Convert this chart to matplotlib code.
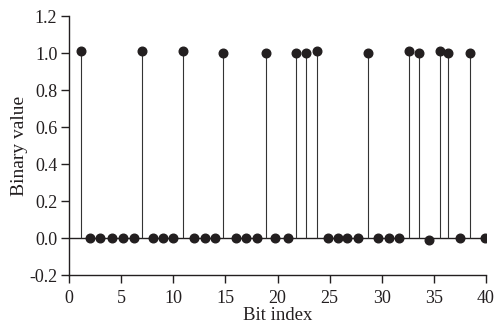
import matplotlib
matplotlib.use("Agg")
import matplotlib.pyplot as plt
import numpy as np

plt.rcParams['font.family'] = ['Liberation Serif', 'DejaVu Serif']
plt.rcParams['axes.unicode_minus'] = False

bit_pos = [1.1, 2.0, 3.0, 4.1, 5.2, 6.2, 7.0, 8.0, 9.0, 10.0,
           10.9, 12.0, 13.0, 14.0, 14.8, 16.0, 17.0, 18.0, 18.9, 19.8,
           21.0, 21.8, 22.7, 23.8, 24.8, 25.8, 26.7, 27.7, 28.7, 29.6,
           30.7, 31.7, 32.6, 33.6, 34.5, 35.6, 36.4, 37.5, 38.5, 39.9]
bit_val = [1.01, 0, 0, 0, 0, 0, 1.01, 0, 0, 0,
           1.01, 0, 0, 0, 1.0, 0, 0, 0, 1.0, 0,
           0, 1.0, 1.0, 1.01, 0, 0, 0, 0, 1.0, 0,
           0, 0, 1.01, 1.0, -0.01, 1.01, 1.0, 0, 1.0, 0]
x_ticks = [0, 5, 10, 15, 20, 25, 30, 35, 40]
y_ticks = [-0.2, 0.0, 0.2, 0.4, 0.6, 0.8, 1.0, 1.2]

fig = plt.figure(figsize=(5.01, 3.29), dpi=100)
ax = fig.add_axes([0.138, 0.164, 0.832, 0.787])

mk, st, bl = ax.stem(bit_pos, bit_val, basefmt=' ')
plt.setp(st, color='#333333', linewidth=0.8)
plt.setp(mk, color='#231f20', markersize=6.2, zorder=3)
ax.axhline(0, color='#231f20', linewidth=1.0, zorder=1)

ax.set_xlim(0, 40)
ax.set_ylim(-0.2, 1.2)
ax.set_xticks(x_ticks)
ax.set_yticks(y_ticks)
ax.set_yticklabels([f"{v:.1f}" for v in y_ticks])
for s in ['top', 'right']:
    ax.spines[s].set_visible(False)
for s in ['left', 'bottom']:
    ax.spines[s].set_color('#231f20')
    ax.spines[s].set_linewidth(1.0)
ax.tick_params(direction='out', length=5.5, width=1.0, color='#231f20',
               labelsize=13, labelcolor='#231f20')
ax.tick_params(axis='x', pad=5)
ax.tick_params(axis='y', pad=3)
ax.set_xlabel('Bit index', fontsize=13.5, labelpad=0, color='#231f20')
ax.set_ylabel('Binary value', fontsize=14, labelpad=1, color='#231f20')

fig.savefig('out.png', dpi=100)
